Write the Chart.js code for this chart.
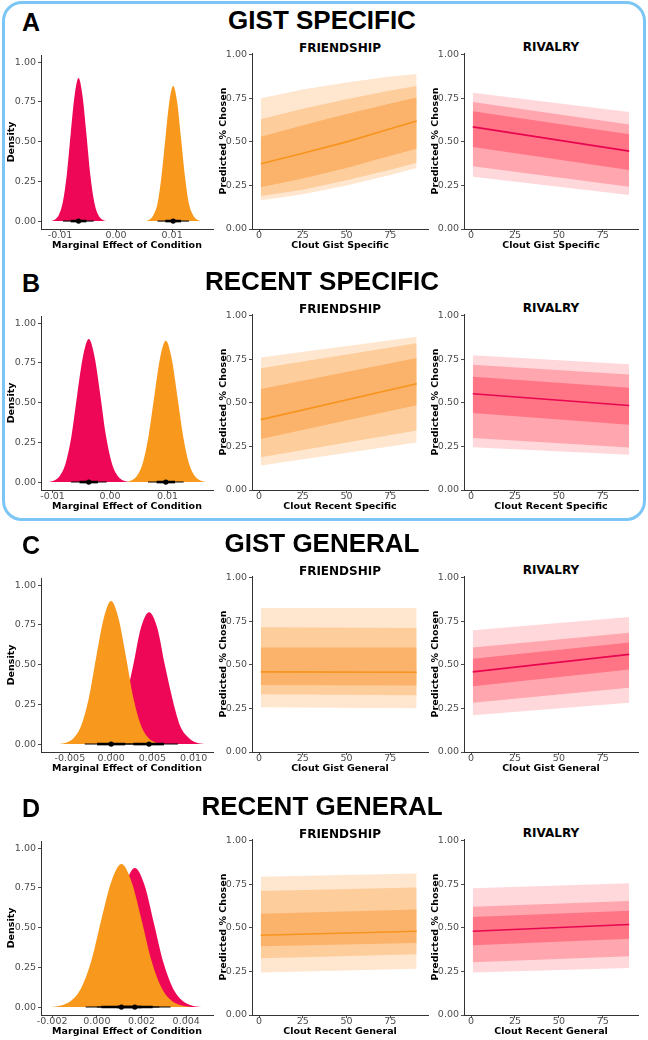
<!DOCTYPE html>
<html>
<head>
<meta charset="utf-8">
<script src="https://cdn.jsdelivr.net/npm/chart.js@4.4.1/dist/chart.umd.min.js"></script>
<style>
  body { margin: 0; background: #fff; width: 648px; height: 1040px; position: relative; overflow: hidden; font-family: "Liberation Sans", Arial, sans-serif; }
  .box { position: absolute; left: 2px; top: 1px; width: 638px; height: 514px; border: 3px solid #7cc6f6; border-radius: 20px; }
  .hdr { position: absolute; font-weight: bold; font-size: 26px; transform: translate(-50%, -50%); white-space: nowrap; }
  .let { position: absolute; left: 22px; font-weight: bold; font-size: 25px; transform: translateY(-50%); }
  .pt { position: absolute; font-family: "DejaVu Sans"; font-weight: bold; font-size: 12px; transform: translate(-50%, -50%); white-space: nowrap; }
  .cv { position: absolute; }
</style>
</head>
<body>
<div class="box"></div>
<script>
// shared ticks
const probTicks = [0, 0.25, 0.5, 0.75, 1];
const probLabels = ['0.00', '0.25', '0.50', '0.75', '1.00'];
const cloutTicks = [0, 25, 50, 75];
const cloutLabels = ['0', '25', '50', '75'];

// ---- A: gist specific ----
const densA_ticks = [-0.01, 0, 0.01];
const densA_labels = ['-0.01', '0.00', '0.01'];
const densA_redX = [-0.0116, -0.0109, -0.0102, -0.0095, -0.0088, -0.0081, -0.0074, -0.0067, -0.0060, -0.0053, -0.0046, -0.0039, -0.0032, -0.0025, -0.0018];
const densA_redY = [0.00, 0.01, 0.04, 0.12, 0.29, 0.55, 0.79, 0.90, 0.79, 0.55, 0.29, 0.12, 0.04, 0.01, 0.00];
const densA_orgX = [0.0053, 0.0060, 0.0067, 0.0074, 0.0081, 0.0088, 0.0095, 0.0102, 0.0109, 0.0116, 0.0123, 0.0130, 0.0137, 0.0144, 0.0151];
const densA_orgY = [0.00, 0.01, 0.04, 0.11, 0.28, 0.52, 0.75, 0.85, 0.75, 0.52, 0.28, 0.11, 0.04, 0.01, 0.00];
const densA_redInt = [-0.0067, -0.0081, -0.0053, -0.0095, -0.0040];   // point, 66% lo/hi, 95% lo/hi
const densA_orgInt = [0.0102, 0.0088, 0.0116, 0.0074, 0.0130];

const friendA_x = [1, 25, 50, 75, 90];
const friendA_med = [0.375, 0.435, 0.50, 0.575, 0.62];
const friendA_lo50 = [0.24, 0.29, 0.35, 0.42, 0.46];
const friendA_hi50 = [0.53, 0.595, 0.66, 0.72, 0.755];
const friendA_lo80 = [0.19, 0.225, 0.28, 0.34, 0.38];
const friendA_hi80 = [0.63, 0.69, 0.745, 0.795, 0.82];
const friendA_lo95 = [0.165, 0.20, 0.25, 0.31, 0.35];
const friendA_hi95 = [0.75, 0.80, 0.84, 0.875, 0.89];

const rivalA_x = [1, 90];
const rivalA_med = [0.586, 0.447];
const rivalA_lo50 = [0.471, 0.338];
const rivalA_hi50 = [0.676, 0.544];
const rivalA_lo80 = [0.36, 0.242];
const rivalA_hi80 = [0.729, 0.60];
const rivalA_lo95 = [0.30, 0.195];
const rivalA_hi95 = [0.782, 0.672];

// ---- B: recent specific ----
const densB_ticks = [-0.01, 0, 0.01];
const densB_labels = ['-0.01', '0.00', '0.01'];
const densB_redX = [-0.0107, -0.0097, -0.0087, -0.0077, -0.0067, -0.0057, -0.0047, -0.0037, -0.0027, -0.0017, -0.0007, 0.0003, 0.0013, 0.0023, 0.0033];
const densB_redY = [0.00, 0.01, 0.04, 0.12, 0.29, 0.55, 0.79, 0.90, 0.79, 0.55, 0.29, 0.12, 0.04, 0.01, 0.00];
const densB_orgX = [0.0027, 0.0037, 0.0047, 0.0057, 0.0067, 0.0077, 0.0087, 0.0097, 0.0107, 0.0117, 0.0127, 0.0137, 0.0147, 0.0157, 0.0167];
const densB_orgY = [0.00, 0.01, 0.04, 0.12, 0.29, 0.54, 0.78, 0.89, 0.78, 0.54, 0.29, 0.12, 0.04, 0.01, 0.00];
const densB_redInt = [-0.0037, -0.0053, -0.0021, -0.0068, -0.0006];
const densB_orgInt = [0.0097, 0.0081, 0.0113, 0.0066, 0.0128];

const friendB_x = [1, 90];
const friendB_med = [0.404, 0.61];
const friendB_lo50 = [0.292, 0.487];
const friendB_hi50 = [0.58, 0.758];
const friendB_lo80 = [0.188, 0.342];
const friendB_hi80 = [0.698, 0.842];
const friendB_lo95 = [0.14, 0.273];
const friendB_hi95 = [0.76, 0.879];

const rivalB_x = [1, 90];
const rivalB_med = [0.552, 0.485];
const rivalB_lo50 = [0.442, 0.375];
const rivalB_hi50 = [0.65, 0.587];
const rivalB_lo80 = [0.298, 0.244];
const rivalB_hi80 = [0.719, 0.663];
const rivalB_lo95 = [0.246, 0.202];
const rivalB_hi95 = [0.773, 0.721];

// ---- C: gist general ----
const densC_ticks = [-0.005, 0, 0.005, 0.01];
const densC_labels = ['-0.005', '0.000', '0.005', '0.010'];
const densC_orgX = [-0.0063, -0.0054, -0.0045, -0.0036, -0.0027, -0.0018, -0.0009, 0.0000, 0.0009, 0.0018, 0.0027, 0.0036, 0.0045, 0.0054, 0.0063];
const densC_orgY = [0.00, 0.01, 0.04, 0.12, 0.29, 0.55, 0.79, 0.90, 0.79, 0.55, 0.29, 0.12, 0.04, 0.01, 0.00];
const densC_redX = [-0.0021, -0.0011, -0.0002, 0.0008, 0.0017, 0.0027, 0.0036, 0.0046, 0.0056, 0.0065, 0.0075, 0.0084, 0.0094, 0.0103, 0.0113];
const densC_redY = [0.00, 0.01, 0.04, 0.11, 0.27, 0.50, 0.73, 0.83, 0.73, 0.50, 0.27, 0.11, 0.04, 0.01, 0.00];
const densC_orgInt = [0.0000, -0.0017, 0.0017, -0.0032, 0.0032];
const densC_redInt = [0.0046, 0.0027, 0.0064, 0.0009, 0.0081];

const friendC_x = [1, 90];
const friendC_med = [0.46, 0.458];
const friendC_lo50 = [0.384, 0.382];
const friendC_hi50 = [0.60, 0.599];
const friendC_lo80 = [0.332, 0.326];
const friendC_hi80 = [0.716, 0.712];
const friendC_lo95 = [0.257, 0.251];
const friendC_hi95 = [0.827, 0.827];

const rivalC_x = [1, 90];
const rivalC_med = [0.46, 0.56];
const rivalC_lo50 = [0.378, 0.474];
const rivalC_hi50 = [0.535, 0.628];
const rivalC_lo80 = [0.282, 0.369];
const rivalC_hi80 = [0.599, 0.685];
const rivalC_lo95 = [0.211, 0.282];
const rivalC_hi95 = [0.699, 0.775];

// ---- D: recent general ----
const densD_ticks = [-0.002, 0, 0.002, 0.004];
const densD_labels = ['-0.002', '0.000', '0.002', '0.004'];
const densD_orgX = [-0.00205, -0.0016, -0.00115, -0.0007, -0.00025, 0.0002, 0.00065, 0.0011, 0.00155, 0.0020, 0.00245, 0.0029, 0.00335, 0.0038, 0.00425];
const densD_orgY = [0.00, 0.01, 0.04, 0.12, 0.29, 0.55, 0.79, 0.90, 0.79, 0.55, 0.29, 0.12, 0.04, 0.01, 0.00];
const densD_redX = [-0.00128, -0.00085, -0.00043, 0.0000, 0.00043, 0.00085, 0.00128, 0.0017, 0.00213, 0.00255, 0.00298, 0.0034, 0.00383, 0.00425, 0.00468];
const densD_redY = [0.00, 0.01, 0.04, 0.12, 0.28, 0.53, 0.77, 0.875, 0.77, 0.53, 0.28, 0.12, 0.04, 0.01, 0.00];
const densD_orgInt = [0.0011, 0.0002, 0.0020, -0.0005, 0.0028];
const densD_redInt = [0.0017, 0.0009, 0.0025, 0.0000, 0.0033];

const friendD_x = [1, 90];
const friendD_med = [0.458, 0.481];
const friendD_lo50 = [0.394, 0.413];
const friendD_hi50 = [0.581, 0.606];
const friendD_lo80 = [0.325, 0.348];
const friendD_hi80 = [0.712, 0.731];
const friendD_lo95 = [0.244, 0.265];
const friendD_hi95 = [0.794, 0.812];

const rivalD_x = [1, 90];
const rivalD_med = [0.481, 0.519];
const rivalD_lo50 = [0.40, 0.437];
const rivalD_hi50 = [0.563, 0.598];
const rivalD_lo80 = [0.302, 0.337];
const rivalD_hi80 = [0.621, 0.654];
const rivalD_lo95 = [0.244, 0.269];
const rivalD_hi95 = [0.727, 0.756];

// colours
const RED = '#ee0756';
const ORANGE = '#f8981d';
const friendCols = { line: '#f7941d', b50: '#fbb36b', b80: '#fdcd9c', b95: '#fee6cf' };
const rivalCols = { line: '#e8064f', b50: '#ff7585', b80: '#ffa6af', b95: '#ffd8dc' };

const pts = (xs, ys) => xs.map((x, i) => ({ x: x, y: ys[i] }));

function mkAxis(min, max, ticks, labels, title, fit, horiz) {
  return {
    type: 'linear', min: min, max: max,
    afterBuildTicks: s => { s.ticks = ticks.map(v => ({ value: v })); },
    afterFit: s => { if (horiz) s.height = fit; else s.width = fit; },
    ticks: {
      callback: (v, i) => labels[i], autoSkip: false, maxRotation: 0,
      color: '#4d4d4d', font: { family: 'DejaVu Sans', size: 9.5 }, padding: horiz ? -2 : 2
    },
    grid: { drawOnChartArea: false, tickLength: 3, color: '#4d4d4d' },
    border: { color: '#333', width: 1 },
    title: { display: true, text: title, color: '#000', font: { family: 'DejaVu Sans', size: 9.5, weight: 'bold' }, padding: horiz ? { top: 0, bottom: 0 } : { top: 5, bottom: 4 } }
  };
}

function addChart(left, right, areaTop, areaBottom, yW, datasets, xAxis, yAxis) {
  const top = areaTop - 12;
  const w = right - left, h = areaBottom + 22 - top;
  const wrap = document.createElement('div');
  wrap.className = 'cv';
  wrap.style.left = left + 'px'; wrap.style.top = top + 'px';
  const c = document.createElement('canvas');
  c.width = w; c.height = h;
  wrap.appendChild(c);
  document.body.appendChild(wrap);
  new Chart(c, {
    type: 'line',
    data: { datasets: datasets },
    options: {
      responsive: false, animation: false,
      layout: { padding: { top: 12, right: 4, left: 0, bottom: 0 } },
      plugins: { legend: { display: false }, tooltip: { enabled: false } },
      elements: { point: { radius: 0 }, line: { borderWidth: 0 } },
      scales: { x: xAxis, y: yAxis }
    }
  });
}

function densitySets(first, second, firstInt, secondInt) {
  // first = drawn on top
  const iv = (a, b, w) => ({ data: [{ x: a, y: 0 }, { x: b, y: 0 }], borderColor: '#000', borderWidth: w, fill: false, pointRadius: 0 });
  return [
    { data: [{ x: firstInt[0], y: 0 }, { x: secondInt[0], y: 0 }], showLine: false, pointRadius: 2.6, pointBackgroundColor: '#000', pointBorderWidth: 0 },
    iv(firstInt[1], firstInt[2], 2.6), iv(secondInt[1], secondInt[2], 2.6),
    iv(firstInt[3], firstInt[4], 1.1), iv(secondInt[3], secondInt[4], 1.1),
    { data: first.data, fill: 'origin', backgroundColor: first.col, borderWidth: 0, cubicInterpolationMode: 'monotone' },
    { data: second.data, fill: 'origin', backgroundColor: second.col, borderWidth: 0, cubicInterpolationMode: 'monotone' }
  ];
}

function fanSets(x, med, lo50, hi50, lo80, hi80, lo95, hi95, cols) {
  return [
    { data: pts(x, med), borderColor: cols.line, borderWidth: 1.6, fill: false },
    { data: pts(x, hi50), fill: 2, backgroundColor: cols.b50, borderWidth: 0 },
    { data: pts(x, lo50), fill: false, borderWidth: 0 },
    { data: pts(x, hi80), fill: 4, backgroundColor: cols.b80, borderWidth: 0 },
    { data: pts(x, lo80), fill: false, borderWidth: 0 },
    { data: pts(x, hi95), fill: 6, backgroundColor: cols.b95, borderWidth: 0 },
    { data: pts(x, lo95), fill: false, borderWidth: 0 }
  ];
}

function text(cls, txt, x, y) {
  const d = document.createElement('div');
  d.className = cls; d.textContent = txt;
  d.style.left = x + 'px'; d.style.top = y + 'px';
  document.body.appendChild(d);
}

const rowTops = [229, 490, 752, 1015];   // y of axis baselines
const rowLetters = ['A', 'B', 'C', 'D'];
const rowTitles = ['GIST SPECIFIC', 'RECENT SPECIFIC', 'GIST GENERAL', 'RECENT GENERAL'];
const rowXTitles = ['Clout Gist Specific', 'Clout Recent Specific', 'Clout Gist General', 'Clout Recent General'];
const densRanges = [[-0.0134, 0.0173], [-0.012, 0.0179], [-0.0085, 0.01235], [-0.0025, 0.0052]];

const densData = [
  densitySets({ data: pts(densA_redX, densA_redY), col: RED }, { data: pts(densA_orgX, densA_orgY), col: ORANGE }, densA_redInt, densA_orgInt),
  densitySets({ data: pts(densB_redX, densB_redY), col: RED }, { data: pts(densB_orgX, densB_orgY), col: ORANGE }, densB_redInt, densB_orgInt),
  densitySets({ data: pts(densC_orgX, densC_orgY), col: ORANGE }, { data: pts(densC_redX, densC_redY), col: RED }, densC_orgInt, densC_redInt),
  densitySets({ data: pts(densD_orgX, densD_orgY), col: ORANGE }, { data: pts(densD_redX, densD_redY), col: RED }, densD_orgInt, densD_redInt)
];
const densTicks = [[densA_ticks, densA_labels], [densB_ticks, densB_labels], [densC_ticks, densC_labels], [densD_ticks, densD_labels]];

const friendData = [
  fanSets(friendA_x, friendA_med, friendA_lo50, friendA_hi50, friendA_lo80, friendA_hi80, friendA_lo95, friendA_hi95, friendCols),
  fanSets(friendB_x, friendB_med, friendB_lo50, friendB_hi50, friendB_lo80, friendB_hi80, friendB_lo95, friendB_hi95, friendCols),
  fanSets(friendC_x, friendC_med, friendC_lo50, friendC_hi50, friendC_lo80, friendC_hi80, friendC_lo95, friendC_hi95, friendCols),
  fanSets(friendD_x, friendD_med, friendD_lo50, friendD_hi50, friendD_lo80, friendD_hi80, friendD_lo95, friendD_hi95, friendCols)
];
const rivalData = [
  fanSets(rivalA_x, rivalA_med, rivalA_lo50, rivalA_hi50, rivalA_lo80, rivalA_hi80, rivalA_lo95, rivalA_hi95, rivalCols),
  fanSets(rivalB_x, rivalB_med, rivalB_lo50, rivalB_hi50, rivalB_lo80, rivalB_hi80, rivalB_lo95, rivalB_hi95, rivalCols),
  fanSets(rivalC_x, rivalC_med, rivalC_lo50, rivalC_hi50, rivalC_lo80, rivalC_hi80, rivalC_lo95, rivalC_hi95, rivalCols),
  fanSets(rivalD_x, rivalD_med, rivalD_lo50, rivalD_hi50, rivalD_lo80, rivalD_hi80, rivalD_lo95, rivalD_hi95, rivalCols)
];

rowTops.forEach((base, r) => {
  text('let', rowLetters[r], 22, base - 207);
  text('hdr', rowTitles[r], 322, base - 209);
  text('pt', 'FRIENDSHIP', 340, base - 181);
  text('pt', 'RIVALRY', 551, base - 182);

  // density panel
  addChart(1, 217, base - 174, base, 40, densData[r],
    mkAxis(densRanges[r][0], densRanges[r][1], densTicks[r][0], densTicks[r][1], 'Marginal Effect of Condition', 22, true),
    mkAxis(-0.05, 1.045, probTicks, probLabels, 'Density', 40, false));

  // friendship fan
  addChart(213, 432, base - 176, base, 39, friendData[r],
    mkAxis(-4, 96.5, cloutTicks, cloutLabels, rowXTitles[r], 22, true),
    mkAxis(0, 1.01, probTicks, probLabels, 'Predicted % Chosen', 39, false));

  // rivalry fan
  addChart(425, 642, base - 176, base, 39, rivalData[r],
    mkAxis(-4, 95, cloutTicks, cloutLabels, rowXTitles[r], 22, true),
    mkAxis(0, 1.01, probTicks, probLabels, 'Predicted % Chosen', 39, false));
});
</script>
</body>
</html>
